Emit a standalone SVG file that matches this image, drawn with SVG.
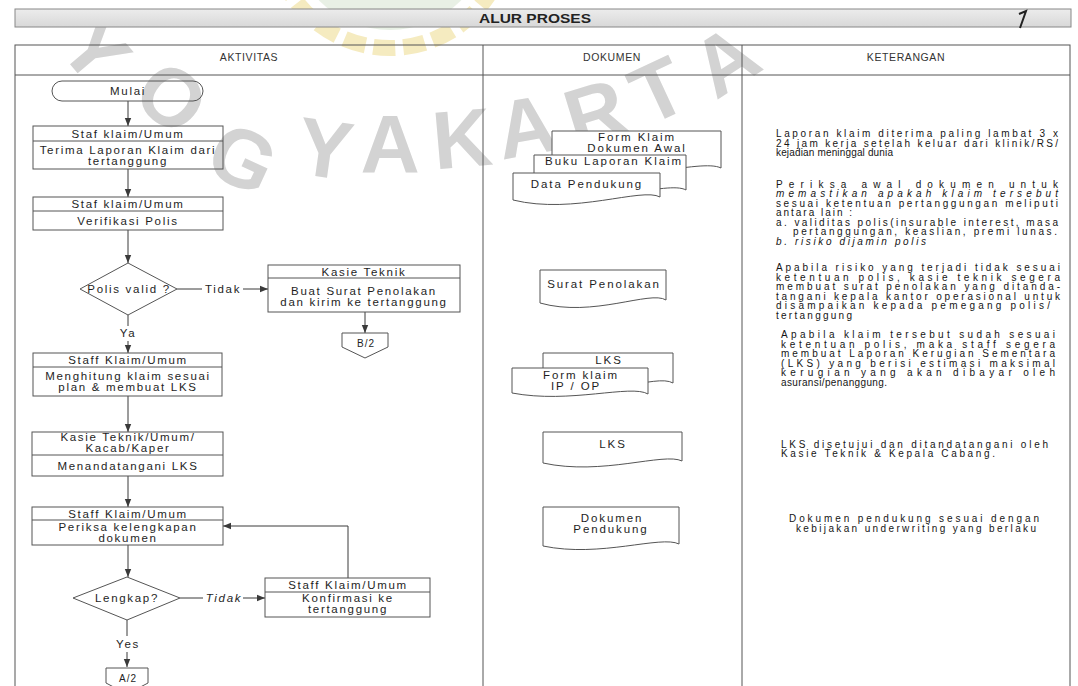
<svg xmlns="http://www.w3.org/2000/svg" width="1078" height="686" viewBox="0 0 1078 686">
<style>
.ln{stroke:#3a3a3a;stroke-width:1;fill:none}
.bx{fill:none;stroke:#555;stroke-width:1}
.dc{fill:#fff;stroke:#555;stroke-width:1}
.t{font-family:"Liberation Sans",Arial,sans-serif;font-size:11.5px;letter-spacing:1.7px;fill:#1e1e1e;text-anchor:middle}
.d{font-family:"Liberation Sans",Arial,sans-serif;font-size:11.5px;letter-spacing:1.9px;fill:#1e1e1e;text-anchor:middle}
.h{font-family:"Liberation Sans",Arial,sans-serif;font-size:10.5px;letter-spacing:0.6px;fill:#333;text-anchor:middle}
.k{font-family:"Liberation Sans",Arial,sans-serif;font-size:10px;fill:#151515}
.wm{font-family:"Liberation Sans",Arial,sans-serif;font-weight:bold;font-size:82px;fill:#d3d3d3;text-anchor:middle}
</style>
<defs>
<linearGradient id="hg" x1="0" y1="0" x2="0" y2="1"><stop offset="0" stop-color="#ececec"/><stop offset="1" stop-color="#d8d8d8"/></linearGradient>
<marker id="ah" markerUnits="userSpaceOnUse" markerWidth="9" markerHeight="8" refX="8" refY="4" orient="auto"><path d="M0,0.8 L8,4 L0,7.2 Z" fill="#3a3a3a"/></marker>
</defs>
<rect width="1078" height="686" fill="#fff"/>
<g id="watermark">
<g opacity="0.7">
<circle cx="390" cy="-70" r="100" fill="#dfeadb"/>
<circle cx="390" cy="-70" r="118" fill="none" stroke="#f2e3a6" stroke-width="16" stroke-dasharray="22 8"/>
</g>
<text class="wm" transform="translate(96,50) rotate(50)" dy="29">Y</text>
<text class="wm" transform="translate(172,97) rotate(40)" dy="29">O</text>
<text class="wm" transform="translate(243,158) rotate(25)" dy="29">G</text>
<text class="wm" transform="translate(325,148) rotate(8)" dy="29">Y</text>
<text class="wm" transform="translate(390,143) rotate(0)" dy="29">A</text>
<text class="wm" transform="translate(462,138) rotate(-5)" dy="29">K</text>
<text class="wm" transform="translate(526,126) rotate(-10)" dy="29">A</text>
<text class="wm" transform="translate(595,112) rotate(-17)" dy="29">R</text>
<text class="wm" transform="translate(658,90) rotate(-25)" dy="29">T</text>
<text class="wm" transform="translate(725,60) rotate(-33)" dy="29">A</text>
</g>
<g id="header">
<rect x="15" y="9" width="1056" height="18" fill="url(#hg)" stroke="#888" stroke-width="1"/>
<text x="535" y="22.5" font-family="Liberation Sans, Arial, sans-serif" font-size="12" font-weight="bold" fill="#222" text-anchor="middle" textLength="112" lengthAdjust="spacingAndGlyphs">ALUR PROSES</text>
<path d="M1019,14 L1026,11 L1020,28" fill="none" stroke="#222" stroke-width="2"/>
</g>
<g id="table" class="bx">
<rect x="15" y="45" width="1055" height="660"/>
<line x1="15" y1="75" x2="1070" y2="75"/>
<line x1="483" y1="45" x2="483" y2="686"/>
<line x1="742" y1="45" x2="742" y2="686"/>
</g>
<g id="colheads">
<text class="h" x="249" y="61">AKTIVITAS</text>
<text class="h" x="612" y="61">DOKUMEN</text>
<text class="h" x="906" y="61">KETERANGAN</text>
</g>
<g id="connectors" class="ln">
<path d="M128,101 V126" marker-end="url(#ah)"/>
<path d="M128,169 V197" marker-end="url(#ah)"/>
<path d="M128,230 V263" marker-end="url(#ah)"/>
<path d="M177,289 H202"/>
<path d="M243,289 H268" marker-end="url(#ah)"/>
<path d="M365,312 V333" marker-end="url(#ah)"/>
<path d="M128,315 V326"/>
<path d="M128,341 V353" marker-end="url(#ah)"/>
<path d="M128,396 V432" marker-end="url(#ah)"/>
<path d="M128,476 V507" marker-end="url(#ah)"/>
<path d="M128,545 V577" marker-end="url(#ah)"/>
<path d="M180,598 H203"/>
<path d="M243,598 H265" marker-end="url(#ah)"/>
<path d="M348,578 V526 H223" marker-end="url(#ah)"/>
<path d="M127,620 V636"/>
<path d="M127,652 V667" marker-end="url(#ah)"/>
<text class="t" x="223" y="293" stroke="none">Tidak</text>
<text class="t" x="128" y="337" stroke="none">Ya</text>
<text class="t" x="224" y="602" stroke="none" font-style="italic">Tidak</text>
<text class="t" x="128" y="648" stroke="none">Yes</text>
</g>
<g id="mulai">
<rect class="bx" x="52" y="81" width="151" height="20" rx="10"/>
<text class="t" x="128" y="95">Mulai</text>
</g>
<g id="terima">
<rect class="bx" x="33" y="126" width="190" height="43"/>
<line class="bx" x1="33" y1="141" x2="223" y2="141"/>
<text class="t" x="128" y="137.5">Staf klaim/Umum</text>
<text class="t" x="128" y="154">Terima Laporan Klaim dari</text>
<text class="t" x="128" y="165">tertanggung</text>
</g>
<g id="verifikasi">
<rect class="bx" x="33" y="197" width="190" height="33"/>
<line class="bx" x1="33" y1="211" x2="223" y2="211"/>
<text class="t" x="128" y="208">Staf klaim/Umum</text>
<text class="t" x="128" y="224.5">Verifikasi Polis</text>
</g>
<g id="polisvalid">
<polygon class="bx" points="128,263 177,289 128,315 80,289"/>
<text class="t" x="129" y="293">Polis valid ?</text>
</g>
<g id="penolakan">
<rect class="bx" x="268" y="265" width="192" height="47"/>
<line class="bx" x1="268" y1="278" x2="460" y2="278"/>
<text class="t" x="364" y="276">Kasie Teknik</text>
<text class="t" x="364" y="295">Buat Surat Penolakan</text>
<text class="t" x="364" y="306">dan kirim ke tertanggung</text>
</g>
<g id="b2">
<path class="bx" d="M342,333 H388 V347 L365,358 L342,347 Z"/>
<text class="t" x="366" y="346.5" style="font-size:10px;letter-spacing:1px">B/2</text>
</g>
<g id="menghitung">
<rect class="bx" x="33" y="353" width="189" height="43"/>
<line class="bx" x1="33" y1="367" x2="222" y2="367"/>
<text class="t" x="128" y="364">Staff Klaim/Umum</text>
<text class="t" x="128" y="380">Menghitung klaim sesuai</text>
<text class="t" x="128" y="391">plan &amp; membuat LKS</text>
</g>
<g id="tandatangan">
<rect class="bx" x="32" y="432" width="191" height="44"/>
<line class="bx" x1="32" y1="455" x2="223" y2="455"/>
<text class="t" x="128" y="441">Kasie Teknik/Umum/</text>
<text class="t" x="128" y="452">Kacab/Kaper</text>
<text class="t" x="128" y="469.5">Menandatangani LKS</text>
</g>
<g id="periksa">
<rect class="bx" x="32" y="507" width="191" height="38"/>
<line class="bx" x1="32" y1="520" x2="223" y2="520"/>
<text class="t" x="128" y="517.5">Staff Klaim/Umum</text>
<text class="t" x="128" y="530.5">Periksa kelengkapan</text>
<text class="t" x="128" y="541.5">dokumen</text>
</g>
<g id="lengkap">
<polygon class="bx" points="127,577 180,598 127,620 73,598"/>
<text class="t" x="127" y="602">Lengkap?</text>
</g>
<g id="konfirmasi">
<rect class="bx" x="265" y="578" width="165" height="39"/>
<line class="bx" x1="265" y1="592" x2="430" y2="592"/>
<text class="t" x="348" y="589">Staff Klaim/Umum</text>
<text class="t" x="348" y="602">Konfirmasi ke</text>
<text class="t" x="348" y="613">tertanggung</text>
</g>
<g id="a2">
<path class="bx" d="M106,668 H148 V683 L127,694 L106,683 Z"/>
<text class="t" x="128" y="682" style="font-size:10px;letter-spacing:1px">A/2</text>
</g>
<g id="doc-formklaim">
<path class="dc" d="M552,131 H721 V168 C701,158 622,186 552,171 Z"/>
<text class="d" x="637" y="141">Form Klaim</text>
<text class="d" x="637" y="152">Dokumen Awal</text>
</g>
<g id="doc-buku">
<path class="dc" d="M534,155 H686 V190 C668,180 597,208 534,193 Z"/>
<text class="d" x="614" y="165">Buku Laporan Klaim</text>
</g>
<g id="doc-data">
<path class="dc" d="M513,173 H660 V197 C642,187 574,215 513,200 Z"/>
<text class="d" x="587" y="188">Data Pendukung</text>
</g>
<g id="doc-surat">
<path class="dc" d="M540,270 H666 V300 C650,290 593,318 540,303 Z"/>
<text class="d" x="604" y="288">Surat Penolakan</text>
</g>
<g id="doc-lks1">
<path class="dc" d="M543,353 H673 V383 C656,373 598,401 543,386 Z"/>
<text class="d" x="609" y="364">LKS</text>
</g>
<g id="doc-formip">
<path class="dc" d="M512,368 H648 V394 C631,384 570,404 512,393 Z"/>
<text class="d" x="581" y="379">Form klaim</text>
<text class="d" x="576" y="390">IP / OP</text>
</g>
<g id="doc-lks2">
<path class="dc" d="M543,432 H682 V461 C664,452 602,476 543,463 Z"/>
<text class="d" x="613" y="448">LKS</text>
</g>
<g id="doc-dokpend">
<path class="dc" d="M543,507 H679 V544 C661,535 600,558 543,546 Z"/>
<text class="d" x="612" y="521.5">Dokumen</text>
<text class="d" x="611" y="532.5">Pendukung</text>
</g>
<g id="keterangan" class="k">
<text x="776" y="137" textLength="282" lengthAdjust="spacing">Laporan klaim diterima paling lambat 3 x</text>
<text x="776" y="146.5" textLength="282" lengthAdjust="spacing">24 jam kerja setelah keluar dari klinik/RS/</text>
<text x="776" y="156" textLength="117" lengthAdjust="spacing">kejadian meninggal dunia</text>
<text x="776" y="187.5" textLength="282" lengthAdjust="spacing">Periksa awal dokumen untuk</text>
<text x="776" y="197" textLength="282" lengthAdjust="spacing" font-style="italic">memastikan apakah klaim tersebut</text>
<text x="776" y="206.5" textLength="282" lengthAdjust="spacing">sesuai ketentuan pertanggungan meliputi</text>
<text x="776" y="216" textLength="76" lengthAdjust="spacing">antara lain :</text>
<text x="776" y="225.5" textLength="282" lengthAdjust="spacing">a. validitas polis(insurable interest, masa</text>
<text x="793" y="235" textLength="264" lengthAdjust="spacing">pertanggungan, keaslian, premi lunas.</text>
<text x="776" y="244.5" textLength="150" lengthAdjust="spacing" font-style="italic">b. risiko dijamin polis</text>
<text x="776" y="271" textLength="284" lengthAdjust="spacing">Apabila risiko yang terjadi tidak sesuai</text>
<text x="776" y="280.5" textLength="284" lengthAdjust="spacing">ketentuan polis, kasie teknik segera</text>
<text x="776" y="290" textLength="284" lengthAdjust="spacing">membuat surat penolakan yang ditanda-</text>
<text x="776" y="299.5" textLength="284" lengthAdjust="spacing">tangani kepala kantor operasional untuk</text>
<text x="776" y="309" textLength="274" lengthAdjust="spacing">disampaikan kepada pemegang polis/</text>
<text x="776" y="318.5" textLength="76" lengthAdjust="spacing">tertanggung</text>
<text x="781" y="338" textLength="274" lengthAdjust="spacing">Apabila klaim tersebut sudah sesuai</text>
<text x="781" y="347.5" textLength="274" lengthAdjust="spacing">ketentuan polis, maka staff segera</text>
<text x="781" y="357" textLength="274" lengthAdjust="spacing">membuat Laporan Kerugian Sementara</text>
<text x="781" y="366.5" textLength="274" lengthAdjust="spacing">(LKS) yang berisi estimasi maksimal</text>
<text x="781" y="376" textLength="274" lengthAdjust="spacing">kerugian yang akan dibayar oleh</text>
<text x="781" y="385.5" textLength="106" lengthAdjust="spacing">asuransi/penanggung.</text>
<text x="781" y="447.5" textLength="267" lengthAdjust="spacing">LKS disetujui dan ditandatangani oleh</text>
<text x="781" y="457" textLength="214" lengthAdjust="spacing">Kasie Teknik &amp; Kepala Cabang.</text>
<text x="789" y="521.5" textLength="250" lengthAdjust="spacing">Dokumen pendukung sesuai dengan</text>
<text x="796" y="531.5" textLength="240" lengthAdjust="spacing">kebijakan underwriting yang berlaku</text>
</g>
</svg>
